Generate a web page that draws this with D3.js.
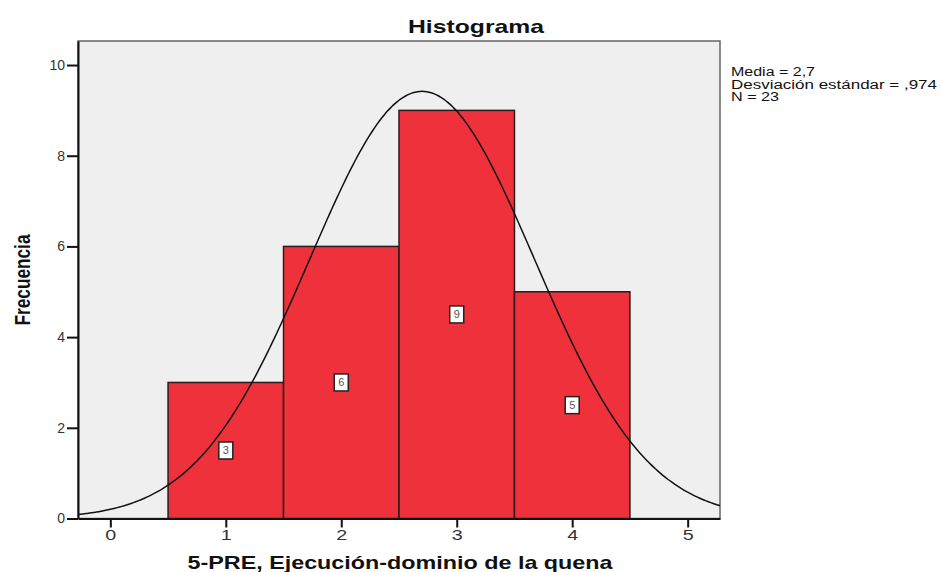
<!DOCTYPE html>
<html>
<head>
<meta charset="utf-8">
<script src="https://d3js.org/d3.v7.min.js"></script>
<style>
	body { margin: 0; background: #fff; }
	text { font-family: "Liberation Sans", Arial, sans-serif; }
</style>
</head>
<body>
<div id="divbody"></div>
<script>
var binCenters = [1, 2, 3, 4];
var counts = [3, 6, 9, 5];
var xTicks = [0, 1, 2, 3, 4, 5];
var yTicks = [0, 2, 4, 6, 8, 10];
var media = 2.7;
var desv = 0.974;
var n = 23;
var statLines = ["Media = 2,7", "Desviación estándar = ,974", "N = 23"];

var width = 940;
var height = 572;
var pLeft = 78, pRight = 720, pTop = 41, pBottom = 518.5;

var svg = d3.select("#divbody").append("svg")
	.attr("width", width)
	.attr("height", height);

var x = d3.scaleLinear().domain([-0.28, 5.28]).range([pLeft, pRight]);
var y = d3.scaleLinear().domain([0, 10.53]).range([pBottom, pTop]);

svg.append("defs").append("clipPath").attr("id", "plotclip")
	.append("rect")
	.attr("x", pLeft).attr("y", pTop)
	.attr("width", pRight - pLeft).attr("height", pBottom - pTop);

// fondo del area
svg.append("rect")
	.attr("x", pLeft).attr("y", pTop)
	.attr("width", pRight - pLeft).attr("height", pBottom - pTop)
	.attr("fill", "#efefef")
	.attr("stroke", "#666")
	.attr("stroke-width", 1.5);

// barras
svg.selectAll("rect.bar")
	.data(counts)
	.enter()
	.append("rect")
	.attr("class", "bar")
	.attr("x", function(d, i){ return x(binCenters[i] - 0.5); })
	.attr("y", function(d){ return y(d); })
	.attr("width", function(d, i){ return x(binCenters[i] + 0.5) - x(binCenters[i] - 0.5); })
	.attr("height", function(d){ return y(0) - y(d); })
	.attr("fill", "#ef313b")
	.attr("stroke", "#2b1b1b")
	.attr("stroke-width", 1.5);

// curva normal
var curvePts = d3.range(-0.28, 5.2801, 0.02);
var line = d3.line()
	.x(function(d){ return x(d); })
	.y(function(d){
		var z = (d - media) / desv;
		return y(n / (desv * Math.sqrt(2 * Math.PI)) * Math.exp(-0.5 * z * z));
	})
	.curve(d3.curveBasis);

svg.append("path")
	.datum(curvePts)
	.attr("d", line)
	.attr("fill", "none")
	.attr("stroke", "#111")
	.attr("stroke-width", 1.5)
	.attr("clip-path", "url(#plotclip)");

// etiquetas de las barras
var lab = svg.selectAll("g.lab")
	.data(counts)
	.enter()
	.append("g")
	.attr("class", "lab")
	.attr("transform", function(d, i){ return "translate(" + x(binCenters[i]) + "," + y(d / 2) + ")"; });
lab.append("rect")
	.attr("x", -7).attr("y", -8.5)
	.attr("width", 14).attr("height", 17)
	.attr("fill", "#fff")
	.attr("stroke", "#222")
	.attr("stroke-width", 1.5);
lab.append("text")
	.attr("text-anchor", "middle")
	.attr("y", 4)
	.attr("font-size", 11)
	.attr("fill", "#555")
	.text(function(d){ return d; });

// ejes
var yAxis = svg.append("g")
	.attr("transform", "translate(" + pLeft + ",0)")
	.call(d3.axisLeft(y).tickValues(yTicks).tickSize(11).tickSizeOuter(0).tickPadding(2).tickFormat(d3.format("d")));
var xAxis = svg.append("g")
	.attr("transform", "translate(0," + pBottom + ")")
	.call(d3.axisBottom(x).tickValues(xTicks).tickSize(9).tickSizeOuter(0).tickPadding(3).tickFormat(d3.format("d")));

[xAxis, yAxis].forEach(function(a){
	a.select(".domain").attr("stroke", "#111").attr("stroke-width", 2);
	a.selectAll(".tick line").attr("stroke", "#111").attr("stroke-width", 2);
	a.selectAll(".tick text")
		.attr("font-size", 14)
		.attr("fill", "#333")
		.style("font-family", "'Liberation Sans', Arial, sans-serif");
});
xAxis.selectAll(".tick text").attr("textLength", 11).attr("lengthAdjust", "spacingAndGlyphs");

// titulos
svg.append("text")
	.attr("x", 476).attr("y", 33)
	.attr("text-anchor", "middle")
	.attr("font-size", 19)
	.attr("font-weight", "bold")
	.attr("fill", "#111")
	.attr("textLength", 136)
	.attr("lengthAdjust", "spacingAndGlyphs")
	.text("Histograma");

svg.append("text")
	.attr("x", 400).attr("y", 569)
	.attr("text-anchor", "middle")
	.attr("font-size", 19)
	.attr("font-weight", "bold")
	.attr("fill", "#111")
	.attr("textLength", 425)
	.attr("lengthAdjust", "spacingAndGlyphs")
	.text("5-PRE, Ejecución-dominio de la quena");

svg.append("text")
	.attr("transform", "translate(30,280) rotate(-90)")
	.attr("text-anchor", "middle")
	.attr("font-size", 22)
	.attr("font-weight", "bold")
	.attr("fill", "#111")
	.attr("textLength", 91)
	.attr("lengthAdjust", "spacingAndGlyphs")
	.text("Frecuencia");

var statLen = [84, 206, 48];
svg.selectAll("text.stat")
	.data(statLines)
	.enter()
	.append("text")
	.attr("class", "stat")
	.attr("x", 731)
	.attr("y", function(d, i){ return 76 + i * 12.5; })
	.attr("font-size", 12.5)
	.attr("fill", "#111")
	.attr("textLength", function(d, i){ return statLen[i]; })
	.attr("lengthAdjust", "spacingAndGlyphs")
	.text(function(d){ return d; });
</script>
</body>
</html>
